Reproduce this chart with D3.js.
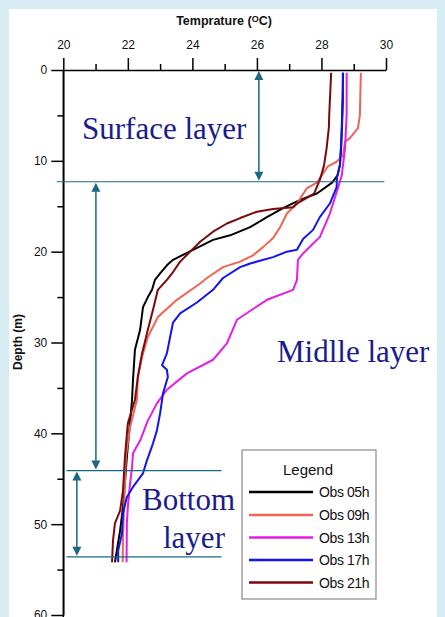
<!DOCTYPE html>
<html>
<head>
<meta charset="utf-8">
<script src="https://cdn.jsdelivr.net/npm/d3@7"></script>
<style>
  html, body { margin: 0; padding: 0; background: #d8ecf3; }
  svg { display: block; }
</style>
</head>
<body>
<svg id="chart" width="445" height="617"></svg>
<script>
// ---- Data (temperature °C, depth m) ----
const seriesNames = ["Obs 05h", "Obs 09h", "Obs 13h", "Obs 17h", "Obs 21h"];
const seriesColors = ["#000000", "#ee6456", "#e41ee4", "#1414ee", "#7a0a0a"];

const obs05h = [[28.67,0.3],[28.64,5.0],[28.61,8.6],[28.57,10.5],[28.50,11.6],[28.33,12.4],[27.86,13.6],[27.34,14.3],[26.81,15.2],[26.31,16.2],[25.79,17.3],[25.17,18.2],[24.64,18.7],[24.02,19.8],[23.40,20.9],[23.21,21.5],[23.00,22.4],[22.84,23.1],[22.75,24.2],[22.62,25.0],[22.47,26.1],[22.38,28.6],[22.22,30.8],[22.16,34.1],[22.13,36.3],[22.05,39.5],[21.97,42.6],[21.91,45.5],[21.85,48.1],[21.76,50.7],[21.66,52.9],[21.60,54.2]];
const obs09h = [[29.22,0.3],[29.19,5.0],[29.13,6.4],[28.88,7.5],[28.73,7.9],[28.67,9.4],[28.47,10.1],[28.20,10.6],[27.95,11.9],[27.86,12.4],[27.55,13.0],[27.24,14.7],[26.93,15.8],[26.72,17.3],[26.50,18.5],[26.19,19.5],[25.88,20.4],[25.48,21.1],[24.95,21.7],[24.45,22.9],[24.24,23.5],[23.52,25.3],[22.93,27.2],[22.62,29.4],[22.44,31.6],[22.31,33.8],[22.28,36.3],[22.07,39.3],[21.94,42.6],[21.91,45.5],[21.88,48.5],[21.85,51.2],[21.84,54.2]];
const obs13h = [[28.78,0.3],[28.78,5.0],[28.73,8.6],[28.63,11.6],[28.51,13.0],[28.26,15.8],[27.95,18.4],[27.74,19.1],[27.43,20.2],[27.27,20.9],[27.24,23.1],[27.12,24.2],[26.31,25.3],[25.38,27.5],[25.07,30.1],[24.64,31.9],[23.83,33.4],[23.21,35.2],[22.90,36.7],[22.62,38.6],[22.38,40.8],[22.16,42.2],[22.13,43.7],[22.07,45.5],[22.00,48.1],[21.97,49.9],[21.96,54.2]];
const obs17h = [[28.66,0.3],[28.67,3.1],[28.63,6.8],[28.57,10.5],[28.48,11.8],[28.47,12.9],[28.26,14.7],[27.95,16.2],[27.74,17.6],[27.43,18.6],[27.24,19.8],[26.93,20.0],[26.50,20.6],[25.79,21.3],[25.48,21.7],[24.95,22.9],[24.64,24.2],[24.14,25.6],[23.62,26.8],[23.40,27.8],[23.31,29.4],[23.21,31.2],[23.06,32.5],[23.21,33.0],[23.24,33.8],[23.09,35.6],[23.00,37.8],[22.90,39.7],[22.78,41.1],[22.59,43.0],[22.47,44.4],[22.16,45.9],[21.97,47.0],[21.85,48.8],[21.82,51.0],[21.70,52.9],[21.70,54.2]];
const obs21h = [[28.30,0.3],[28.24,5.0],[28.23,6.3],[28.16,8.6],[28.08,10.5],[27.95,12.1],[27.77,13.6],[27.24,14.7],[27.12,15.1],[26.50,15.3],[26.00,15.6],[25.48,16.3],[25.07,16.9],[24.64,17.8],[24.24,18.9],[23.93,20.0],[23.62,21.1],[23.37,22.4],[23.21,23.1],[22.93,24.2],[22.78,26.4],[22.62,28.6],[22.44,31.2],[22.31,33.8],[22.22,36.3],[22.00,38.9],[21.91,42.6],[21.85,46.3],[21.76,48.5],[21.60,49.9],[21.54,51.8],[21.51,54.2]];
const seriesData = [obs05h, obs09h, obs13h, obs17h, obs21h];

const xMajorTicks = [20, 22, 24, 26, 28, 30];
const xMinorTicks = [21, 23, 25, 27, 29];
const yMajorTicks = [0, 10, 20, 30, 40, 50, 60];
const yMinorTicks = [5, 15, 25, 35, 45, 55];

// layer annotations
const layerBoundaries = [12.3, 44.1, 53.6];      // depth (m)
const layerLabels = ["Surface layer", "Midlle layer", "Bottom", "layer"];

// ---- Drawing ----
const svg = d3.select("#chart");

svg.append("rect").attr("x", 9).attr("y", 9).attr("width", 428).attr("height", 620).attr("fill", "#ffffff");

const x = d3.scaleLinear().domain([20, 30]).range([63.3, 386]);
const y = d3.scaleLinear().domain([0, 60]).range([70, 615]);

const axisFont = "Arial, 'Liberation Sans', sans-serif";

// X axis (top)
svg.append("g").attr("transform", `translate(0,${y(0)})`)
  .call(d3.axisTop(x).tickValues(xMajorTicks).tickSize(12).tickSizeOuter(0).tickPadding(9).tickFormat(d3.format("d")));
svg.append("g").attr("transform", `translate(0,${y(0)})`)
  .call(d3.axisTop(x).tickValues(xMinorTicks).tickSize(6).tickFormat(""))
  .select(".domain").remove();

// Y axis (left)
svg.append("g").attr("transform", `translate(${x(20)},0)`)
  .call(d3.axisLeft(y).tickValues(yMajorTicks).tickSize(12).tickSizeOuter(0).tickPadding(4).tickFormat(d3.format("d")));
svg.append("g").attr("transform", `translate(${x(20)},0)`)
  .call(d3.axisLeft(y).tickValues(yMinorTicks).tickSize(6).tickFormat(""))
  .select(".domain").remove();
// extend y axis line to bottom edge
svg.append("line").attr("x1", x(20)).attr("x2", x(20)).attr("y1", y(0)).attr("y2", 630)
  .attr("stroke", "#000").attr("stroke-width", 1.5);

svg.selectAll(".domain").attr("stroke", "#000").attr("stroke-width", 1.5);
svg.selectAll(".tick line").attr("stroke", "#000").attr("stroke-width", 1.5);
svg.selectAll(".tick text").attr("font-family", axisFont).attr("font-size", 12).attr("fill", "#111");

// Axis titles
const xt = svg.append("text").attr("x", 224).attr("y", 25).attr("text-anchor", "middle")
  .attr("font-family", axisFont).attr("font-size", 12.5).attr("font-weight", "bold").attr("fill", "#111");
xt.append("tspan").text("Temprature (");
xt.append("tspan").attr("font-size", 9).attr("dy", -3).text("O");
xt.append("tspan").attr("dy", 3).text("C)");

svg.append("text").attr("transform", "translate(22,342) rotate(-90)").attr("text-anchor", "middle")
  .attr("font-family", axisFont).attr("font-size", 12).attr("font-weight", "bold").attr("fill", "#111")
  .text("Depth (m)");

// Data lines
const line = d3.line().x(d => x(d[0])).y(d => y(d[1]));
svg.append("g").selectAll("path").data(seriesData).join("path")
  .attr("d", line).attr("fill", "none")
  .attr("stroke", (d, i) => seriesColors[i]).attr("stroke-width", 2)
  .attr("stroke-linejoin", "round");

// Annotations
const annColor = "#1c6784";
const hLines = [
  { d: layerBoundaries[0], t0: 19.8, t1: 29.95 },
  { d: layerBoundaries[1], t0: 20.1, t1: 24.9 },
  { d: layerBoundaries[2], t0: 20.1, t1: 24.9 }
];
svg.append("g").selectAll("line").data(hLines).join("line")
  .attr("x1", d => x(d.t0)).attr("x2", d => x(d.t1))
  .attr("y1", d => y(d.d)).attr("y2", d => y(d.d))
  .attr("stroke", annColor).attr("stroke-width", 1.2);

const arrows = [
  { t: 26.06, d0: 0, d1: layerBoundaries[0] },
  { t: 21.01, d0: layerBoundaries[0], d1: layerBoundaries[1] },
  { t: 20.42, d0: layerBoundaries[1], d1: layerBoundaries[2] }
];
const ag = svg.append("g");
arrows.forEach(a => {
  const ax = x(a.t), ya = y(a.d0) + 1, yb = y(a.d1) - 1;
  ag.append("line").attr("x1", ax).attr("x2", ax).attr("y1", ya + 4).attr("y2", yb - 4)
    .attr("stroke", annColor).attr("stroke-width", 1.5);
  ag.append("path").attr("d", `M${ax},${ya} L${ax - 4.5},${ya + 9} L${ax + 4.5},${ya + 9} Z`).attr("fill", annColor);
  ag.append("path").attr("d", `M${ax},${yb} L${ax - 4.5},${yb - 9} L${ax + 4.5},${yb - 9} Z`).attr("fill", annColor);
});

const serif = "'Times New Roman', 'Liberation Serif', serif";
const labelPos = [[82, 139], [277, 362], [142, 510], [163, 548]];
svg.append("g").selectAll("text").data(layerLabels).join("text")
  .attr("x", (d, i) => labelPos[i][0]).attr("y", (d, i) => labelPos[i][1])
  .attr("font-family", serif).attr("font-size", 31).attr("fill", "#1b1b8e")
  .text(d => d);

// Legend
const lg = svg.append("g");
lg.append("rect").attr("x", 242).attr("y", 450).attr("width", 134).attr("height", 149)
  .attr("fill", "#fff").attr("stroke", "#8a8a8a").attr("stroke-width", 1.2);
lg.append("text").attr("x", 308).attr("y", 475).attr("text-anchor", "middle")
  .attr("font-family", axisFont).attr("font-size", 15).attr("fill", "#111").text("Legend");
const rowY = [492, 515, 537.5, 560, 582.5];
seriesNames.forEach((name, i) => {
  lg.append("line").attr("x1", 249).attr("x2", 313).attr("y1", rowY[i]).attr("y2", rowY[i])
    .attr("stroke", seriesColors[i]).attr("stroke-width", 2.5);
  lg.append("text").attr("x", 319).attr("y", rowY[i] + 5)
    .attr("font-family", axisFont).attr("font-size", 14).attr("letter-spacing", -0.4)
    .attr("fill", "#111").text(name);
});
</script>
</body>
</html>
